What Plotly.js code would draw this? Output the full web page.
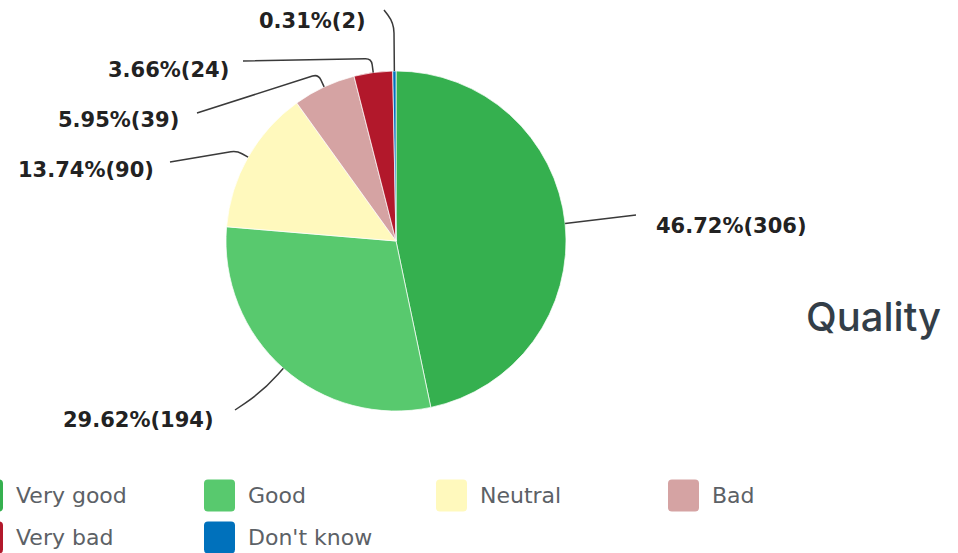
<!DOCTYPE html>
<html>
<head>
<meta charset="utf-8">
<script src="https://cdn.plot.ly/plotly-3.0.1.min.js"></script>
<style>html,body{margin:0;padding:0;background:#fff;}#chart{width:958px;height:553px;}</style>
</head>
<body>
<div id="chart"></div>
<script>
// ---- data ----
const categories = ['Very good', 'Good', 'Neutral', 'Bad', 'Very bad', "Don't know"];
const counts = [306, 194, 90, 39, 24, 2];
const percents = [46.72, 29.62, 13.74, 5.95, 3.66, 0.31];
const colors = ['#35b04f', '#58c96e', '#fff9bd', '#d5a3a3', '#b2182b', '#0071bc'];
const chartTitle = 'Quality';

// ---- layout constants (pixels) ----
const W = 958, H = 553;
const pieLeft = 226, pieTop = 71, pieSize = 340;
const cx = pieLeft + pieSize / 2, cy = pieTop + pieSize / 2, R = pieSize / 2;
const px = x => x / W;
const py = y => 1 - y / H;

// label placement: text anchor point, text side, line end near label, bend distance, corner radius
const labelPlacement = [
  {tx: 654, ty: 226, side: 'left',  p1: [636, 215], d: 0,  rc: 0},
  {tx: 216, ty: 420, side: 'right', p1: [235, 410], d: 30, rc: 22},
  {tx: 156, ty: 170, side: 'right', p1: [170, 162], d: 13, rc: 6},
  {tx: 181, ty: 120, side: 'right', p1: [197, 113], d: 14, rc: 6},
  {tx: 231, ty: 70,  side: 'right', p1: [243, 61],  d: 14, rc: 6},
  {tx: 368, ty: 21,  side: 'right', p1: [384, 10],  d: 48, rc: 10}
];

const total = counts.reduce((a, b) => a + b, 0);
const shapes = [];
const annotations = [];

let cum = 0;
counts.forEach((c, i) => {
  const mid = (cum + c / 2) / total;
  cum += c;
  const th = mid * 2 * Math.PI;
  const ux = Math.sin(th), uy = -Math.cos(th);
  const A = [cx + R * ux, cy + R * uy];
  const L = labelPlacement[i];
  const P1 = L.p1;
  let path;
  if (L.d === 0) {
    path = `M${px(P1[0])},${py(P1[1])} L${px(A[0])},${py(A[1])}`;
  } else {
    const B = [A[0] + L.d * ux, A[1] + L.d * uy];
    const v1 = [P1[0] - B[0], P1[1] - B[1]];
    const n1 = Math.hypot(v1[0], v1[1]);
    const q = [B[0] + v1[0] / n1 * L.rc, B[1] + v1[1] / n1 * L.rc];
    const v2 = [A[0] - B[0], A[1] - B[1]];
    const n2 = Math.hypot(v2[0], v2[1]);
    const rr = Math.min(L.rc, n2 * 0.8);
    const r = [B[0] + v2[0] / n2 * rr, B[1] + v2[1] / n2 * rr];
    path = `M${px(P1[0])},${py(P1[1])} L${px(q[0])},${py(q[1])} Q${px(B[0])},${py(B[1])} ${px(r[0])},${py(r[1])} L${px(A[0])},${py(A[1])}`;
  }
  shapes.push({type: 'path', xref: 'paper', yref: 'paper', path: path,
    line: {color: '#3a3a3a', width: 1.5}});
  annotations.push({
    xref: 'paper', yref: 'paper', x: px(L.tx), y: py(L.ty),
    xanchor: L.side, yanchor: 'middle', showarrow: false,
    text: percents[i].toFixed(2) + '%(' + counts[i] + ')',
    font: {family: 'DejaVu Sans', size: 21, color: '#222222', weight: 700}
  });
});

// custom legend
const legCol0 = -28, legPitch = 232, legRow0 = 495, legRowPitch = 42, legSw = 31, legRad = 4;
function roundRect(x0, y0, w, h, r) {
  const x1 = x0 + w, y1 = y0 + h;
  return `M${px(x0 + r)},${py(y0)} L${px(x1 - r)},${py(y0)} Q${px(x1)},${py(y0)} ${px(x1)},${py(y0 + r)} ` +
    `L${px(x1)},${py(y1 - r)} Q${px(x1)},${py(y1)} ${px(x1 - r)},${py(y1)} ` +
    `L${px(x0 + r)},${py(y1)} Q${px(x0)},${py(y1)} ${px(x0)},${py(y1 - r)} ` +
    `L${px(x0)},${py(y0 + r)} Q${px(x0)},${py(y0)} ${px(x0 + r)},${py(y0)} Z`;
}
categories.forEach((name, i) => {
  const col = i % 4, row = Math.floor(i / 4);
  const x0 = legCol0 + col * legPitch;
  const yc = legRow0 + row * legRowPitch;
  shapes.push({type: 'path', xref: 'paper', yref: 'paper',
    path: roundRect(x0, yc - legSw / 2, legSw, legSw + 1, legRad),
    fillcolor: colors[i], line: {width: 0}});
  annotations.push({xref: 'paper', yref: 'paper', x: px(x0 + legSw + 11), y: py(yc),
    xanchor: 'left', yanchor: 'middle', showarrow: false, text: name,
    font: {family: 'DejaVu Sans', size: 22, color: '#5c6166'}});
});

annotations.push({xref: 'paper', yref: 'paper', x: px(804), y: py(316),
  xanchor: 'left', yanchor: 'middle', showarrow: false, text: chartTitle,
  font: {family: 'Inter, Open Sans', size: 40, color: '#333e48', weight: 500}});

const trace = {
  type: 'pie',
  labels: categories,
  values: counts,
  marker: {colors: colors, line: {color: 'rgba(255,255,255,0.7)', width: 1}},
  sort: false,
  direction: 'clockwise',
  rotation: 0,
  textinfo: 'none',
  hoverinfo: 'none',
  domain: {x: [px(pieLeft), px(pieLeft + pieSize)], y: [py(pieTop + pieSize), py(pieTop)]}
};

const layout = {
  width: W, height: H,
  margin: {l: 0, r: 0, t: 0, b: 0},
  showlegend: false,
  paper_bgcolor: '#ffffff',
  plot_bgcolor: '#ffffff',
  shapes: shapes,
  annotations: annotations
};

Plotly.newPlot('chart', [trace], layout, {displayModeBar: false, staticPlot: true});
</script>
</body>
</html>
